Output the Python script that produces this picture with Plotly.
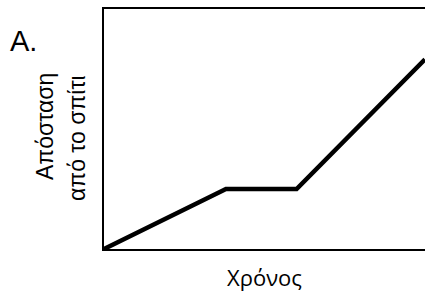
import plotly.graph_objects as go

time = [0, 3.8, 6.0, 10]
distance = [0, 2.5, 2.5, 7.9]

x_title = "Χρόνος"
y_title_1 = "Απόσταση"
y_title_2 = "από το σπίτι"
panel_label = "A."

W, H = 425, 293
L, R, T, B = 104, 426, 9, 249

fig = go.Figure()
fig.add_trace(go.Scatter(x=time, y=distance, mode="lines",
                         line=dict(color="black", width=4.5), cliponaxis=True,
                         hoverinfo="skip"))

fig.update_layout(
    width=W, height=H,
    margin=dict(l=0, r=0, t=0, b=0),
    paper_bgcolor="white", plot_bgcolor="white",
    showlegend=False,
    xaxis=dict(domain=[L / W, 1], range=[0, 10], showgrid=False, zeroline=False,
               showticklabels=False, ticks="", showline=True, linecolor="black",
               linewidth=2, mirror=True),
    yaxis=dict(domain=[1 - B / H, 1 - T / H], range=[0, 10], showgrid=False, zeroline=False,
               showticklabels=False, ticks="", showline=True, linecolor="black",
               linewidth=2),
    font=dict(family="Liberation Sans, Arial", color="black"),
)

fig.add_annotation(text=panel_label, x=8 / W, y=1 - 41 / H, xref="paper", yref="paper",
                   xanchor="left", yanchor="middle", showarrow=False,
                   font=dict(size=29, family="Liberation Sans, Arial", color="black"))
fig.add_annotation(text=y_title_1, x=45 / W, y=1 - 127 / H, xref="paper", yref="paper",
                   xanchor="center", yanchor="middle", showarrow=False, textangle=-90,
                   font=dict(size=23, family="Liberation Sans, Arial", color="black"))
fig.add_annotation(text=y_title_2, x=77 / W, y=1 - 138 / H, xref="paper", yref="paper",
                   xanchor="center", yanchor="middle", showarrow=False, textangle=-90,
                   font=dict(size=23, family="Liberation Sans, Arial", color="black"))
fig.add_annotation(text=x_title, x=264 / W, y=1 - 277 / H, xref="paper", yref="paper",
                   xanchor="center", yanchor="middle", showarrow=False,
                   font=dict(size=22, family="Open Sans", color="black"))

fig.write_html("out.html", config={"displayModeBar": False},
               post_script="document.body.style.margin='0';document.body.style.overflow='hidden';")
